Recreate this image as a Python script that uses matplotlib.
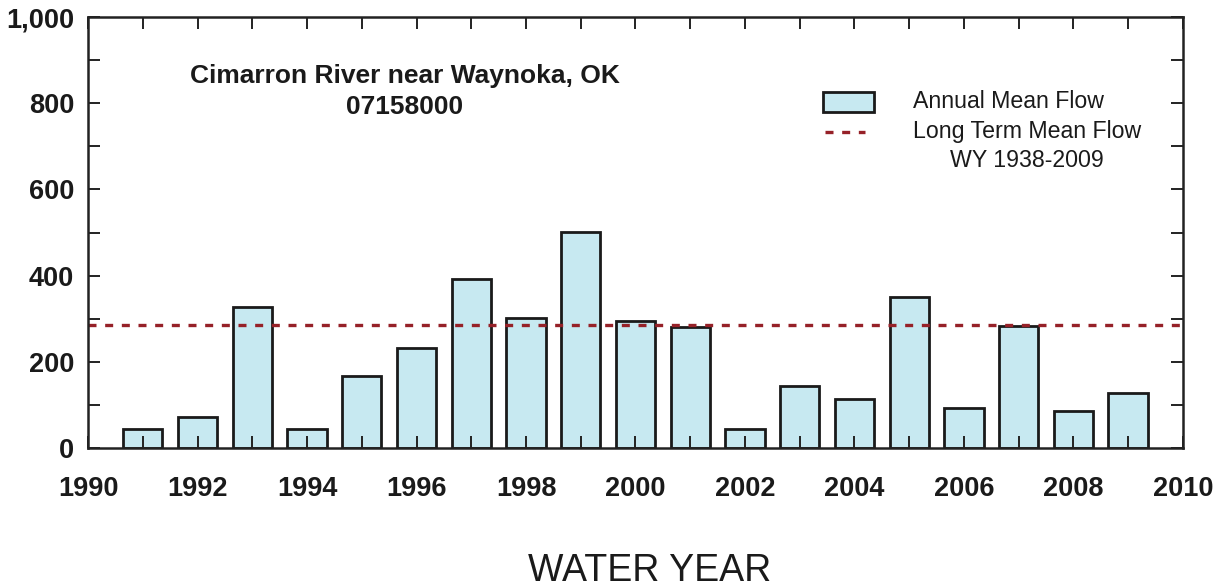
import matplotlib
matplotlib.use("Agg")
from matplotlib import pyplot as plt
from matplotlib.patches import Rectangle
from matplotlib.lines import Line2D
from matplotlib.ticker import MultipleLocator, FuncFormatter

# Annual mean flow, Cimarron River near Waynoka, OK
years = [1991, 1992, 1993, 1994, 1995, 1996, 1997, 1998, 1999, 2000,
         2001, 2002, 2003, 2004, 2005, 2006, 2007, 2008, 2009]
annual_mean = [43, 72, 327, 44, 167, 231, 392, 302, 502, 294,
               281, 43, 143, 113, 350, 92, 284, 86, 127]
long_term_mean = 286

BAR_COLOR = "#c7e9f1"
EDGE = "#1a1a1a"
MEAN_COLOR = "#962128"
DASH = (0, (2.4, 2.6))

plt.rcParams["font.family"] = ["Liberation Sans", "DejaVu Sans"]

fig = plt.figure(figsize=(12.28, 5.87), dpi=100)
ax = fig.add_axes([0.0717, 0.2368, 0.8916, 0.7342])

ax.bar(years, annual_mean, width=0.72, color=BAR_COLOR, edgecolor=EDGE, linewidth=2, zorder=1)
ax.axhline(long_term_mean, color=MEAN_COLOR, linestyle=DASH, linewidth=2.4, zorder=2)

ax.set_xlim(1990, 2010)
ax.set_ylim(0, 1000)
ax.xaxis.set_major_locator(MultipleLocator(2))
ax.xaxis.set_minor_locator(MultipleLocator(1))
ax.yaxis.set_major_locator(MultipleLocator(200))
ax.yaxis.set_minor_locator(MultipleLocator(100))
ax.yaxis.set_major_formatter(FuncFormatter(lambda v, p: f"{int(v):,}"))

ax.tick_params(which="both", direction="in", top=True, right=True, length=8.5, width=1.4, color="#222222")
ax.tick_params(axis="x", which="major", pad=20, labelsize=19.5)
ax.tick_params(axis="y", which="major", pad=10, labelsize=19.5)
for lbl in ax.get_xticklabels() + ax.get_yticklabels():
    lbl.set_fontweight("bold")
    lbl.set_color("#1a1a1a")

for sp in ax.spines.values():
    sp.set_linewidth(1.8)
    sp.set_color("#222222")

ax.text(0.2895, 0.828, "Cimarron River near Waynoka, OK\n07158000", transform=ax.transAxes,
        ha="center", va="center", fontsize=19, fontweight="bold", color="#1a1a1a",
        multialignment="center", linespacing=1.37)

# legend, drawn by hand to follow the original layout
ax.add_patch(Rectangle((0.671, 0.780), 0.047, 0.046, transform=ax.transAxes,
                       facecolor=BAR_COLOR, edgecolor=EDGE, linewidth=2, clip_on=False))
ax.add_line(Line2D([0.6735, 0.7096], [0.733, 0.733], transform=ax.transAxes,
                   color=MEAN_COLOR, linestyle=DASH, linewidth=2.4, clip_on=False))
ax.text(0.7534, 0.805, "Annual Mean Flow", transform=ax.transAxes, ha="left", va="center",
        fontsize=16.7, color="#1a1a1a")
ax.text(0.7534, 0.7355, "Long Term Mean Flow", transform=ax.transAxes, ha="left", va="center",
        fontsize=16.7, color="#1a1a1a")
ax.text(0.8575, 0.668, "WY 1938-2009", transform=ax.transAxes, ha="center", va="center",
        fontsize=16.7, color="#1a1a1a")

fig.text(0.529, 0.028, "WATER YEAR", ha="center", va="center", fontsize=27, color="#1a1a1a")

fig.savefig("out.png", dpi=100)
